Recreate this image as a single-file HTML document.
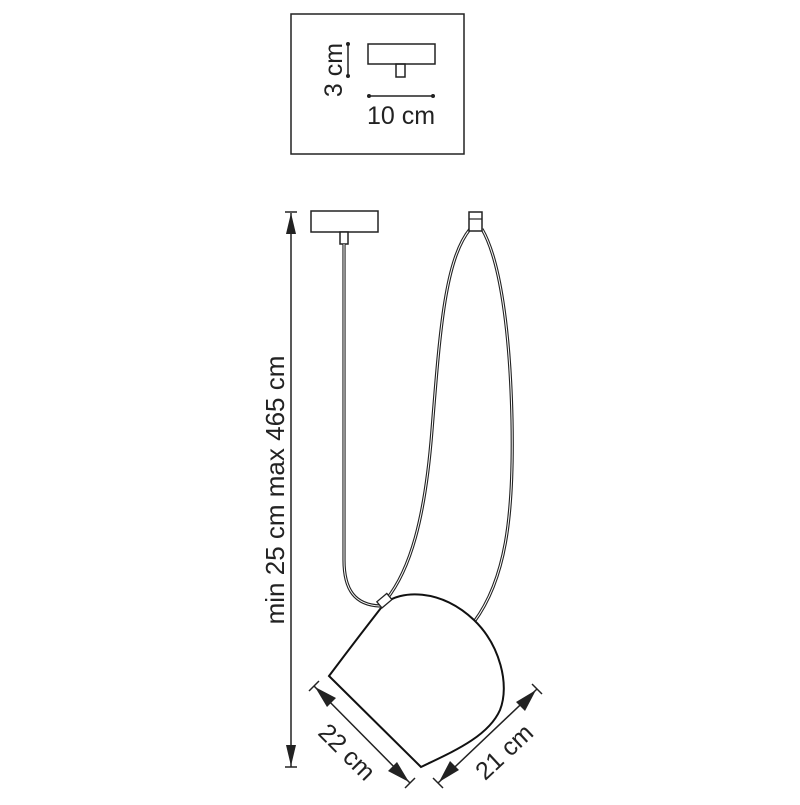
<!DOCTYPE html>
<html><head><style>html,body{margin:0;padding:0;background:#fff}</style></head><body>
<svg width="800" height="800" viewBox="0 0 800 800" xmlns="http://www.w3.org/2000/svg" font-family="Liberation Sans, sans-serif">
<rect x="291" y="14" width="173" height="140" fill="none" stroke="#222" stroke-width="1.5"/>
<rect x="368" y="44" width="67" height="20" fill="none" stroke="#222" stroke-width="1.5"/>
<rect x="396" y="64" width="9" height="13" fill="none" stroke="#222" stroke-width="1.5"/>
<line x1="348" y1="44" x2="348" y2="76" stroke="#222" stroke-width="1.5"/>
<circle cx="348" cy="44" r="2" fill="#222"/><circle cx="348" cy="76" r="2" fill="#222"/>
<line x1="369" y1="96" x2="433" y2="96" stroke="#222" stroke-width="1.5"/>
<circle cx="369" cy="96" r="2" fill="#222"/><circle cx="433" cy="96" r="2" fill="#222"/>
<text x="401" y="124" font-size="25" text-anchor="middle" fill="#222">10 cm</text>
<text transform="translate(342,70) rotate(-90)" font-size="25" text-anchor="middle" fill="#222">3 cm</text>

<line x1="291" y1="213" x2="291" y2="767" stroke="#222" stroke-width="1.5"/>
<line x1="285" y1="212" x2="297" y2="212" stroke="#222" stroke-width="1.5"/>
<line x1="285" y1="767" x2="297" y2="767" stroke="#222" stroke-width="1.5"/>
<polygon points="291,213 286,234 296,234" fill="#222"/>
<polygon points="291,766 286,745 296,745" fill="#222"/>
<text transform="translate(284,490) rotate(-90)" font-size="26" text-anchor="middle" fill="#222">min 25 cm max 465 cm</text>

<rect x="311" y="211" width="67" height="21" fill="#fff" stroke="#222" stroke-width="1.5"/>
<rect x="340" y="232" width="8" height="12" fill="#fff" stroke="#222" stroke-width="1.5"/>
<g fill="none">
<path d="M344,244 L344,560 C344,590 355,605 380,606" stroke="#222" stroke-width="3.2"/>
<path d="M344,244 L344,560 C344,590 355,605 380,606" stroke="#fff" stroke-width="1"/>
<path d="M470,229 C445,260 440,330 432,430 C425,520 410,570 386,600" stroke="#222" stroke-width="3.2"/>
<path d="M470,229 C445,260 440,330 432,430 C425,520 410,570 386,600" stroke="#fff" stroke-width="1"/>
<path d="M482,229 C500,260 510,330 512,420 C514,520 505,580 474,622" stroke="#222" stroke-width="3.2"/>
<path d="M482,229 C500,260 510,330 512,420 C514,520 505,580 474,622" stroke="#fff" stroke-width="1"/>
</g>
<rect x="469" y="212" width="13" height="19" fill="#fff" stroke="#222" stroke-width="1.5"/>
<line x1="469" y1="219" x2="482" y2="219" stroke="#222" stroke-width="1.2"/>

<path d="M329,676 Q356,640 384,604 C400,590 440,588 474,620 C500,645 510,685 500,710 C488,737 452,752 421,767 Z" fill="#fff" stroke="#111" stroke-width="2"/>
<rect x="378" y="597" width="13" height="8" transform="rotate(-40 384 601)" fill="#fff" stroke="#222" stroke-width="1.3"/>

<g stroke="#222" stroke-width="1.5">
<line x1="314" y1="686" x2="410" y2="783"/>
<line x1="309" y1="691" x2="319" y2="681"/>
<line x1="405" y1="788" x2="415" y2="778"/>
<line x1="438" y1="783" x2="537" y2="689"/>
<line x1="433" y1="778" x2="443" y2="788"/>
<line x1="532" y1="684" x2="542" y2="694"/>
</g>
<polygon points="315,687 336,698 327,707" fill="#222"/>
<polygon points="409,782 388,771 397,762" fill="#222"/>
<polygon points="439,782 450,761 459,770" fill="#222"/>
<polygon points="536,690 525,711 516,702" fill="#222"/>
<text transform="translate(341,758) rotate(45)" font-size="25" text-anchor="middle" fill="#222">22 cm</text>
<text transform="translate(510,758) rotate(-43)" font-size="25" text-anchor="middle" fill="#222">21 cm</text>
</svg>
</body></html>
